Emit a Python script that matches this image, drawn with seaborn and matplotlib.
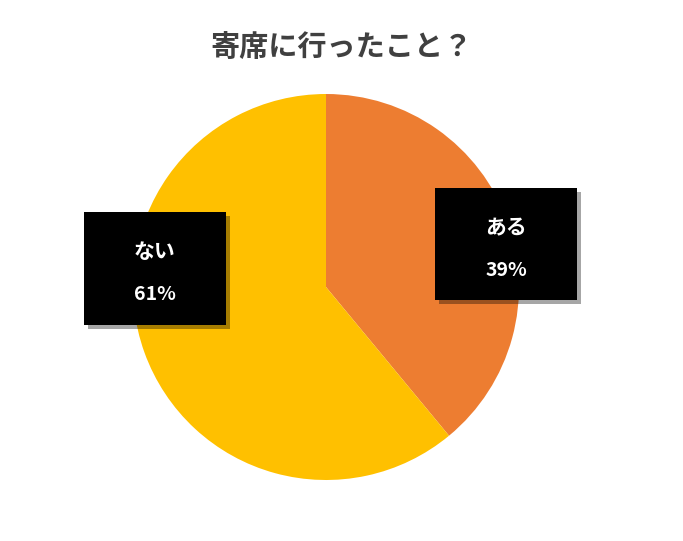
import matplotlib.pyplot as plt
import matplotlib.patheffects as pe
from matplotlib.patches import Rectangle
import seaborn as sns

labels = ['ある', 'ない']
values = [39, 61]
colors = ['#ED7D31', '#FFC000']

sns.set_theme(style='white')
plt.rcParams['font.family'] = ['Noto Sans CJK JP', 'DejaVu Sans']

W, H = 683, 541
fig = plt.figure(figsize=(6.83, 5.41), dpi=100)
ax = fig.add_axes([(326 - 193) / W, (H - 287 - 193) / H, 386 / W, 386 / H])
ax.pie(values, colors=colors, startangle=90, counterclock=False,
       wedgeprops={'linewidth': 0})
ax.set_aspect('equal')
ax.set_xlim(-1, 1)
ax.set_ylim(-1, 1)

# label boxes: left, top, right, bottom in pixels
boxes = [(435, 188, 577, 300), (84, 212, 226, 325)]
for (x0, y0, x1, y1), lab, val in zip(boxes, labels, values):
    r = Rectangle((x0 / W, 1 - y1 / H), (x1 - x0) / W, (y1 - y0) / H,
                  transform=fig.transFigure, fc='black', ec='none')
    r.set_path_effects([pe.SimplePatchShadow(offset=(3, -3), alpha=0.35), pe.Normal()])
    fig.add_artist(r)
    cx = (x0 + x1) / 2
    fig.text(cx / W, 1 - (y0 + 40) / H, lab, ha='center', va='center',
             color='white', fontsize=15, fontweight='bold')
    fig.text(cx / W, 1 - (y0 + 82) / H, f'{val}%', ha='center', va='center',
             color='white', fontsize=14, fontweight='bold')

fig.text(0.5, 1 - 47 / H, '寄席に行ったこと？', ha='center', va='center',
         fontsize=21, fontweight='bold', color='#404040')

fig.savefig('out.png', dpi=100)
